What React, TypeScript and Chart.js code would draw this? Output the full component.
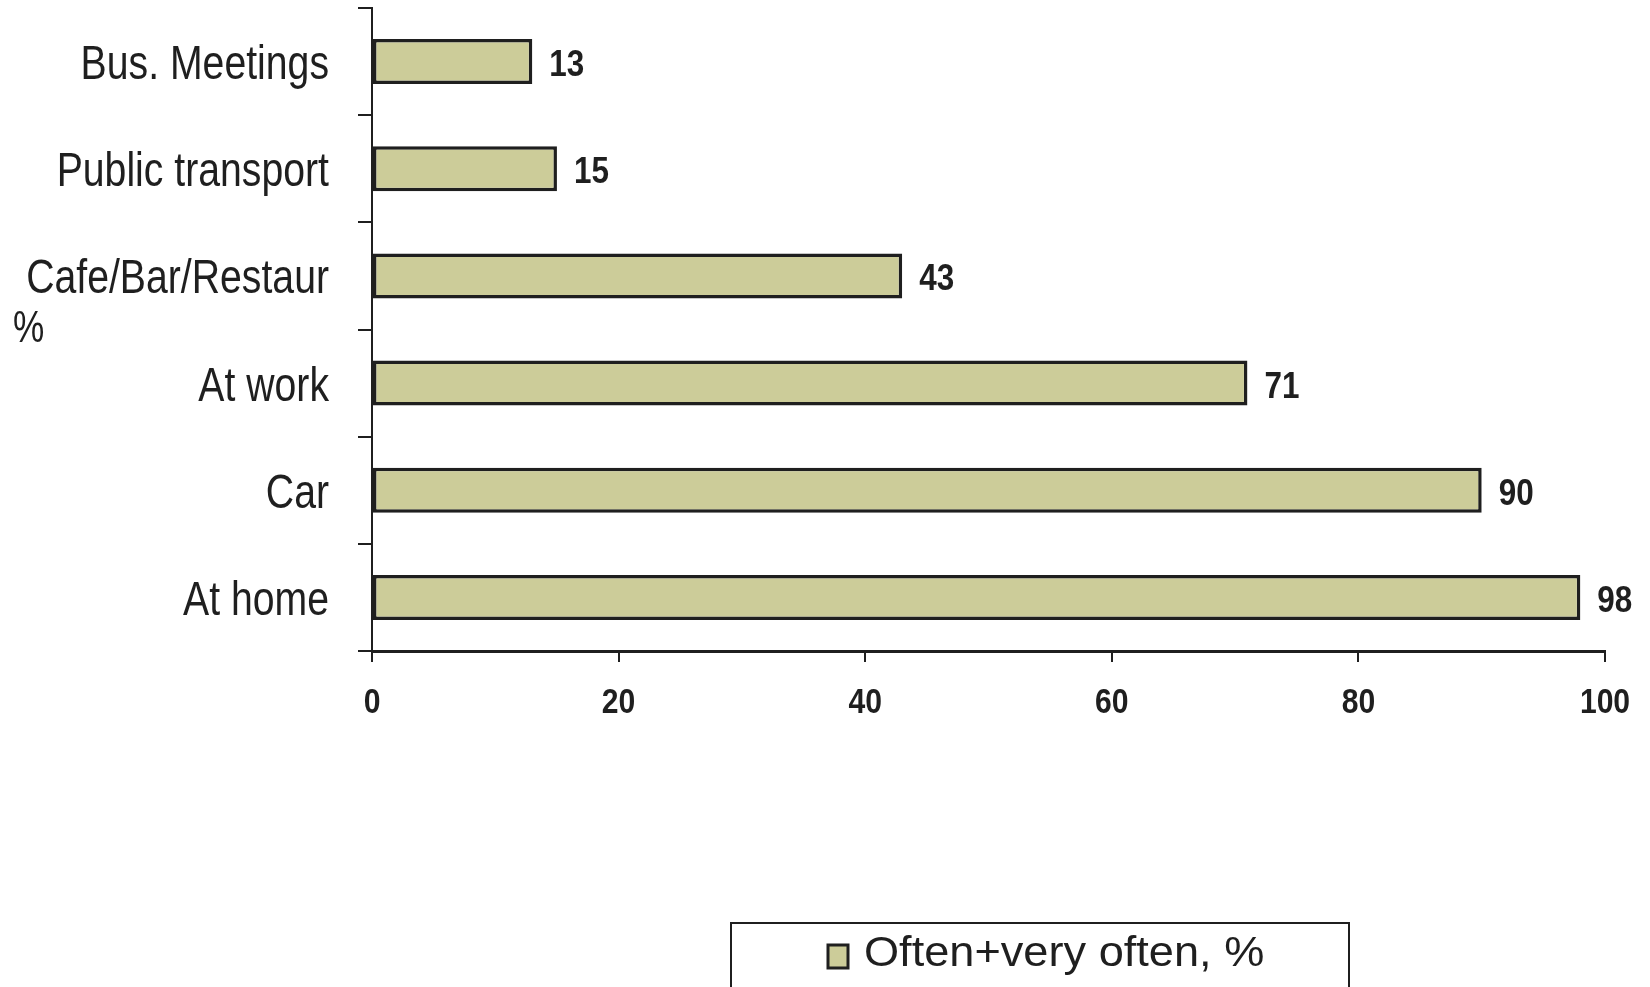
import React, { useEffect, useRef } from "react";
import { Chart, registerables } from "chart.js";

Chart.register(...registerables);

// Survey data: where people use the phone "often" or "very often"
const categories = ["Bus. Meetings", "Public transport", "Cafe/Bar/Restaur", "At work", "Car", "At home"];
const shares = [13, 15, 43, 71, 90, 98];
const xTickValues = [0, 20, 40, 60, 80, 100];
const seriesLabel = "Often+very often, %";
const unitTitle = "%";

const INK = "#1f1f1f";
const FILL = "#CCCC99";
const FAMILY = "'Liberation Sans', Arial, sans-serif";

// Text drawn with a horizontal squeeze/stretch factor (condensed face look)
function drawScaledText(
  ctx: CanvasRenderingContext2D,
  text: string,
  x: number,
  y: number,
  font: string,
  sx: number,
  align: CanvasTextAlign
) {
  ctx.save();
  ctx.font = font;
  ctx.fillStyle = INK;
  ctx.textAlign = align;
  ctx.textBaseline = "alphabetic";
  ctx.translate(x, y);
  ctx.scale(sx, 1);
  ctx.fillText(text, 0, 0);
  ctx.restore();
}

// Axis tick labels, placed from the chart's own scales
const axisLabels = {
  id: "axisLabels",
  afterDraw(chart: any) {
    const ctx = chart.ctx;
    const yScale = chart.scales.y;
    const xScale = chart.scales.x;
    const labels = chart.data.labels as string[];
    labels.forEach((label, i) => {
      const y = yScale.getPixelForTick(i);
      drawScaledText(ctx, label, yScale.right - 14 - 29, y + 17.5, `49px ${FAMILY}`, 0.8, "right");
    });
    xScale.ticks.forEach((t: any) => {
      const x = xScale.getPixelForValue(t.value);
      drawScaledText(ctx, String(t.value), x, xScale.top + 62, `bold 35px ${FAMILY}`, 0.86, "center");
    });
  },
};

// Numbers printed to the right of each bar
const valueLabels = {
  id: "valueLabels",
  afterDatasetsDraw(chart: any) {
    const ctx = chart.ctx;
    const meta = chart.getDatasetMeta(0);
    const data = chart.data.datasets[0].data as number[];
    meta.data.forEach((bar: any, i: number) => {
      drawScaledText(ctx, String(data[i]), bar.x + 17, bar.y + 14.5, `bold 37px ${FAMILY}`, 0.85, "left");
    });
  },
};

// Unit caption on the left and the boxed legend under the plot
const decorations = {
  id: "decorations",
  afterDraw(chart: any) {
    const ctx = chart.ctx;
    drawScaledText(ctx, unitTitle, 13, 342, `44px ${FAMILY}`, 0.8, "left");

    // legend frame (runs past the bottom edge)
    const boxLeft = 731;
    const boxRight = 1349;
    const boxTop = 923;
    ctx.save();
    ctx.strokeStyle = INK;
    ctx.lineWidth = 2;
    ctx.strokeRect(boxLeft, boxTop, boxRight - boxLeft, 200);

    const ds = chart.data.datasets[0];
    ctx.fillStyle = ds.backgroundColor;
    ctx.fillRect(828, 945, 20, 23);
    ctx.lineWidth = 3;
    ctx.strokeStyle = INK;
    ctx.strokeRect(828, 945, 20, 23);
    ctx.restore();

    drawScaledText(ctx, ds.label, 864, 966, `43px ${FAMILY}`, 1.05, "left");
  },
};

export default function App() {
  const canvasRef = useRef<HTMLCanvasElement | null>(null);

  useEffect(() => {
    const canvas = canvasRef.current;
    if (!canvas) return;
    const chart = new Chart(canvas, {
      type: "bar",
      data: {
        labels: categories,
        datasets: [
          {
            label: seriesLabel,
            data: shares,
            backgroundColor: FILL,
            borderColor: INK,
            borderWidth: 3.5,
            borderSkipped: false,
            categoryPercentage: 1,
            barPercentage: 0.42,
          },
        ],
      },
      options: {
        indexAxis: "y",
        responsive: false,
        animation: false,
        devicePixelRatio: 1,
        layout: { padding: { left: 0, right: 45, top: 8, bottom: 0 } },
        plugins: {
          legend: { display: false },
          tooltip: { enabled: false },
        },
        scales: {
          x: {
            type: "linear",
            min: 0,
            max: 100,
            afterBuildTicks(scale: any) {
              scale.ticks = xTickValues.map((v) => ({ value: v }));
            },
            afterFit(scale: any) {
              scale.height = 336;
            },
            grid: {
              drawOnChartArea: false,
              drawTicks: true,
              tickLength: 11,
              color: INK,
              lineWidth: 2,
            },
            border: { display: true, color: INK, width: 3 },
            ticks: { display: false },
          },
          y: {
            type: "category",
            afterFit(scale: any) {
              scale.width = 372;
            },
            grid: {
              offset: true,
              drawOnChartArea: false,
              drawTicks: true,
              tickLength: 14,
              color: INK,
              lineWidth: 2,
            },
            border: { display: true, color: INK, width: 2 },
            ticks: { display: false },
          },
        },
      },
      plugins: [valueLabels, axisLabels, decorations],
    });
    return () => chart.destroy();
  }, []);

  return (
    <div style={{ position: "absolute", left: 0, top: 0, width: 1650, height: 987, background: "#fff", overflow: "hidden" }}>
      <canvas ref={canvasRef} width={1650} height={987} style={{ display: "block" }} />
    </div>
  );
}
